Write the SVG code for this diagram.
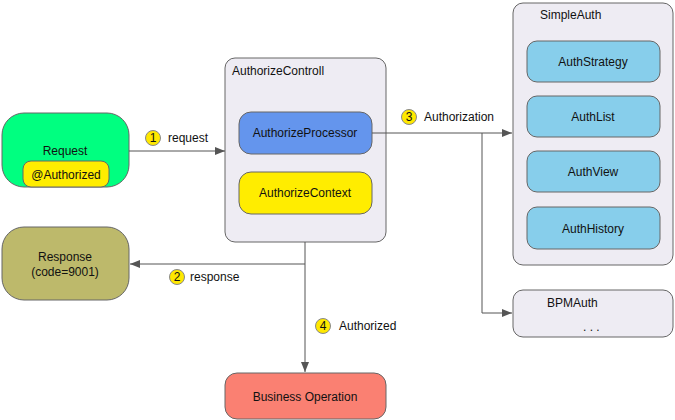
<svg xmlns="http://www.w3.org/2000/svg" width="675" height="420" viewBox="0 0 675 420">
<defs>
<marker id="arr" viewBox="0 0 10 10" refX="10" refY="5" markerWidth="10" markerHeight="10" markerUnits="userSpaceOnUse" orient="auto">
<path d="M0,1 L10,5 L0,9 Z" fill="#555"/>
</marker>
<style>
.box{stroke:#666;stroke-width:1}
.cont{fill:#EEECF3}
.t{font-family:"Liberation Sans",Arial,sans-serif;font-size:12px;fill:#111}
.c{text-anchor:middle}
.line{fill:none;stroke:#555;stroke-width:1}
.badge{fill:#FFE800;stroke:#888;stroke-width:1}
</style>
</defs>
<rect width="675" height="420" fill="#fff"/>

<g id="request">
<rect class="box" x="2" y="113" width="127" height="74" rx="22" fill="#00FF80"/>
<text class="t c" x="65" y="155">Request</text>
<rect class="box" x="23" y="161" width="86" height="26" rx="8" fill="#FFED00"/>
<text class="t c" x="66" y="179">@Authorized</text>
</g>

<g id="response">
<rect class="box" x="2" y="227" width="127" height="73" rx="22" fill="#BDB96B"/>
<text class="t c" x="65" y="261">Response</text>
<text class="t c" x="65" y="276">(code=9001)</text>
</g>

<g id="authorizeControll">
<rect class="box cont" x="225" y="58" width="161" height="184" rx="10"/>
<text class="t" x="232" y="75">AuthorizeControll</text>
</g>
<g id="authorizeProcessor">
<rect class="box" x="239" y="112" width="133" height="42" rx="12" fill="#6495ED"/>
<text class="t c" x="305" y="137">AuthorizeProcessor</text>
</g>
<g id="authorizeContext">
<rect class="box" x="239" y="172" width="133" height="42" rx="12" fill="#FFED00"/>
<text class="t c" x="305" y="197">AuthorizeContext</text>
</g>

<g id="simpleAuth">
<rect class="box cont" x="513" y="3" width="160" height="262" rx="10"/>
<text class="t" x="540" y="19">SimpleAuth</text>
</g>
<g id="authStrategy">
<rect class="box" x="527" y="41" width="133" height="41" rx="10" fill="#87CEEB"/>
<text class="t c" x="593" y="66">AuthStrategy</text>
</g>
<g id="authList">
<rect class="box" x="527" y="96" width="133" height="41" rx="10" fill="#87CEEB"/>
<text class="t c" x="593" y="121">AuthList</text>
</g>
<g id="authView">
<rect class="box" x="527" y="151" width="133" height="41" rx="10" fill="#87CEEB"/>
<text class="t c" x="593" y="176">AuthView</text>
</g>
<g id="authHistory">
<rect class="box" x="527" y="207" width="133" height="42" rx="10" fill="#87CEEB"/>
<text class="t c" x="593" y="233">AuthHistory</text>
</g>

<g id="bpmAuth">
<rect class="box cont" x="513" y="290" width="160" height="47" rx="10"/>
<text class="t" x="547" y="307">BPMAuth</text>
<text class="t" x="583" y="331">. . .</text>
</g>

<g id="businessOperation">
<rect class="box" x="225" y="373" width="161" height="46" rx="12" fill="#FA8072"/>
<text class="t c" x="305" y="401">Business Operation</text>
</g>

<g id="connectors">
<path class="line" d="M129,151 H225" marker-end="url(#arr)"/>
<path class="line" d="M372,133 H512" marker-end="url(#arr)"/>
<path class="line" d="M482,133 V313 H512" marker-end="url(#arr)"/>
<path class="line" d="M305,242 V264 H130" marker-end="url(#arr)"/>
<path class="line" d="M305,264 V372" marker-end="url(#arr)"/>
</g>

<g id="labels">
<circle class="badge" cx="153" cy="138" r="7.5"/>
<text class="t c" x="153" y="142">1</text>
<text class="t" x="168" y="142">request</text>
<circle class="badge" cx="409" cy="117" r="7.5"/>
<text class="t c" x="409" y="121">3</text>
<text class="t" x="424" y="121">Authorization</text>
<circle class="badge" cx="177" cy="277" r="7.5"/>
<text class="t c" x="177" y="281">2</text>
<text class="t" x="190" y="281">response</text>
<circle class="badge" cx="323" cy="326" r="7.5"/>
<text class="t c" x="323" y="330">4</text>
<text class="t" x="339" y="330">Authorized</text>
</g>
</svg>
